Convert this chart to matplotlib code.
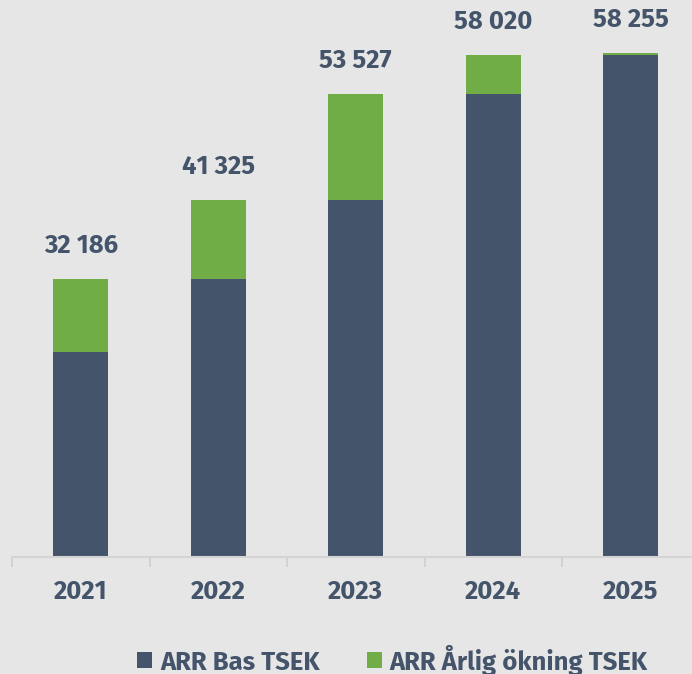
import matplotlib.pyplot as plt
import numpy as np

years = ['2021', '2022', '2023', '2024', '2025']
base = [23700, 32186, 41325, 53527, 58020]
total = [32186, 41325, 53527, 58020, 58255]
total_labels = ['32 186', '41 325', '53 527', '58 020', '58 255']
increase = [t - b for t, b in zip(total, base)]

bg = '#e7e6e6'
dark = '#44546a'
green = '#70ad47'

plt.rcParams['font.family'] = ['Fira Sans', 'Lato', 'DejaVu Sans']
fs = 18.5

fig = plt.figure(figsize=(6.92, 6.74), dpi=100, facecolor=bg)
ax = fig.add_axes([12 / 692, 117 / 674, 687.5 / 692, 557 / 674], facecolor=bg)

x = np.arange(len(years))
ax.bar(x, base, width=0.4, color=dark, label='ARR Bas TSEK', zorder=2)
ax.bar(x, increase, width=0.4, bottom=base, color=green,
       label='ARR Årlig ökning TSEK', zorder=2)

for xi, t, lab in zip(x, total, total_labels):
    ax.annotate(lab, (xi, t), xytext=(0, 18.5), textcoords='offset points',
                ha='center', va='baseline', fontsize=fs, fontweight='bold',
                color=dark)

ax.set_xlim(-0.5, len(years) - 0.5)
ax.set_ylim(0, 64400)
ax.set_xticks(x)
ax.set_xticklabels(years, fontsize=fs, fontweight='bold', color=dark)
ax.set_xticks(np.arange(len(years) + 1) - 0.5, minor=True)
ax.tick_params(axis='x', which='major', length=0, pad=16)
ax.tick_params(axis='x', which='minor', length=7, color='#cfcfcf', width=1.2)
ax.set_yticks([])
for s in ['top', 'right', 'left']:
    ax.spines[s].set_visible(False)
ax.spines['bottom'].set_color('#d4d4d4')
ax.spines['bottom'].set_linewidth(1.5)

handles, labels = ax.get_legend_handles_labels()
fig.legend(handles, labels, loc='center', bbox_to_anchor=(392.5 / 692, 1 - 660 / 674),
           ncol=2, frameon=False, handlelength=0.58, handleheight=0.58,
           handletextpad=0.3, columnspacing=1.85,
           prop={'size': fs, 'weight': 'bold'}, labelcolor=dark)

fig.savefig('out.png', dpi=100, facecolor=bg)
